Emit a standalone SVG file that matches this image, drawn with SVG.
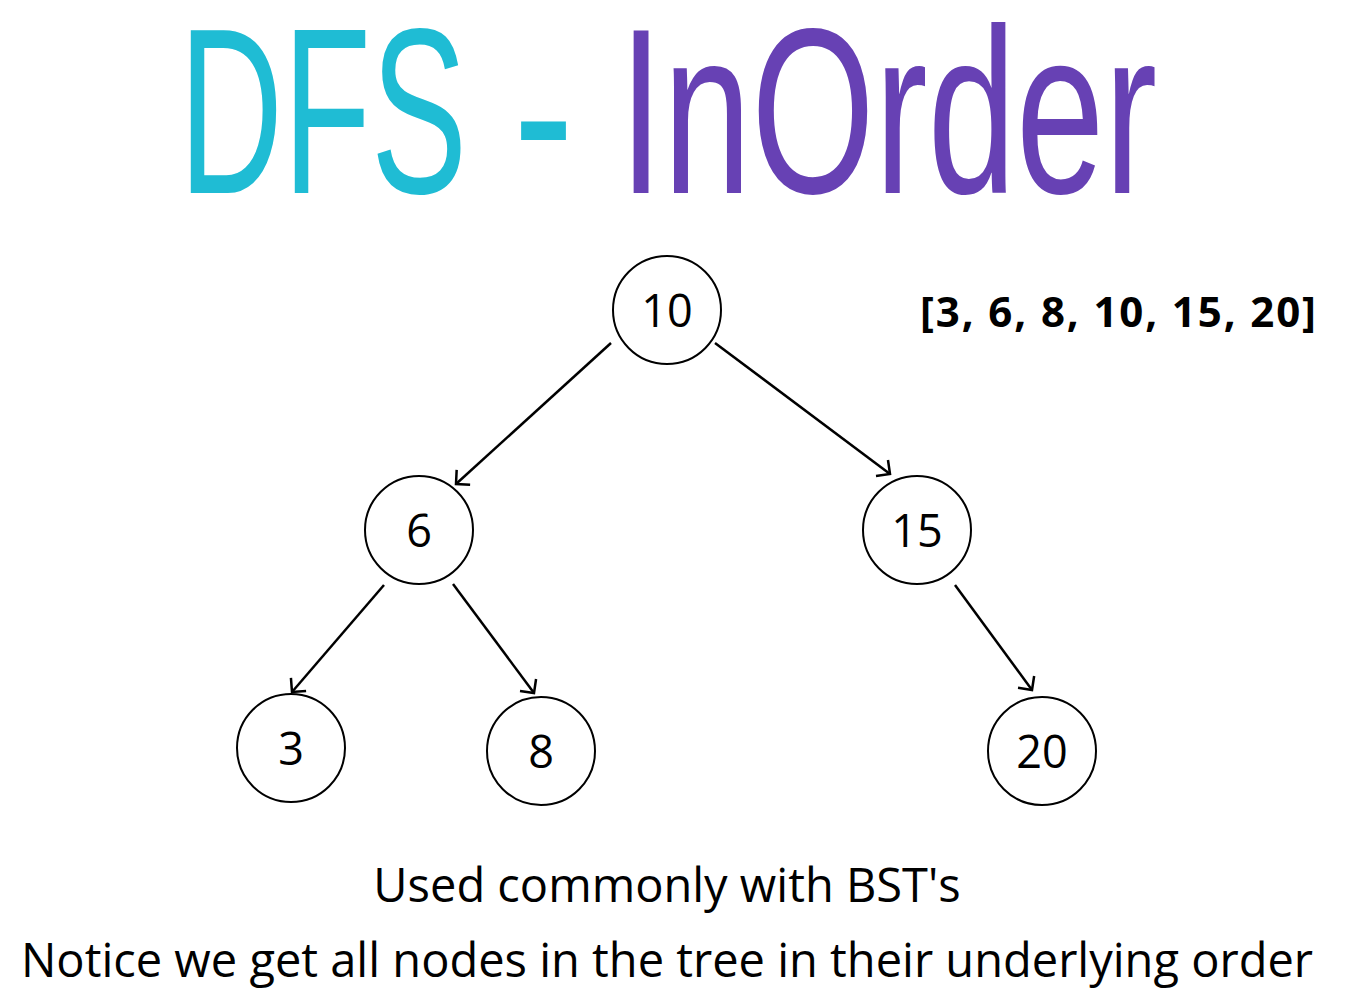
<svg xmlns="http://www.w3.org/2000/svg" width="1362" height="998" viewBox="0 0 1362 998">
<defs>
<style>
.title{font-family:"Liberation Sans",Arial,sans-serif;font-size:236px;}
.cyan{fill:#1FBCD4;}
.purple{fill:#6741B4;}
.node circle{fill:#fff;stroke:#000;stroke-width:2;}
.node text{font-family:"Open Sans","Noto Sans",sans-serif;font-size:45px;fill:#000;text-anchor:middle;}
.edge{stroke:#000;stroke-width:2.5;fill:none;marker-end:url(#arrow);}
.body{font-family:"Open Sans","Noto Sans",sans-serif;font-size:47px;fill:#000;text-anchor:middle;}
.result{font-family:"Open Sans","Noto Sans",sans-serif;font-size:42px;font-weight:bold;fill:#000;}
</style>
<marker id="arrow" markerUnits="userSpaceOnUse" markerWidth="30" markerHeight="30" viewBox="-15 -15 30 30" refX="0" refY="0" orient="auto">
<path d="M-10,-10 L0,0 L-10,10" fill="none" stroke="#000" stroke-width="2.5"/>
</marker>
</defs>
<rect width="1362" height="998" fill="#fff"/>
<g id="title">
<text class="title cyan" x="179" y="193" textLength="288" lengthAdjust="spacingAndGlyphs">DFS</text>
<text class="title cyan" x="513" y="193" textLength="61" lengthAdjust="spacingAndGlyphs">-</text>
<text class="title purple" x="619" y="193" textLength="538" lengthAdjust="spacingAndGlyphs">InOrder</text>
</g>
<g id="connectors">
<line class="edge" x1="611" y1="343" x2="456" y2="484"/>
<line class="edge" x1="715" y1="343" x2="890" y2="474"/>
<line class="edge" x1="384" y1="585" x2="292" y2="692"/>
<line class="edge" x1="453" y1="584" x2="534" y2="693"/>
<line class="edge" x1="955" y1="585" x2="1032" y2="690"/>
</g>
<g id="node-10" class="node"><circle cx="667" cy="310" r="54"/><text x="667" y="327">10</text></g>
<g id="node-6" class="node"><circle cx="419" cy="530" r="54"/><text x="419" y="547">6</text></g>
<g id="node-15" class="node"><circle cx="917" cy="530" r="54"/><text x="917" y="547">15</text></g>
<g id="node-3" class="node"><circle cx="291" cy="748" r="54"/><text x="291" y="765">3</text></g>
<g id="node-8" class="node"><circle cx="541" cy="751" r="54"/><text x="541" y="768">8</text></g>
<g id="node-20" class="node"><circle cx="1042" cy="751" r="54"/><text x="1042" y="768">20</text></g>
<g id="result"><text class="result" x="920" y="327" textLength="396" lengthAdjust="spacing">[3, 6, 8, 10, 15, 20]</text></g>
<g id="caption">
<text class="body" x="667" y="902">Used commonly with BST's</text>
<text class="body" x="667" y="977">Notice we get all nodes in the tree in their underlying order</text>
</g>
</svg>
